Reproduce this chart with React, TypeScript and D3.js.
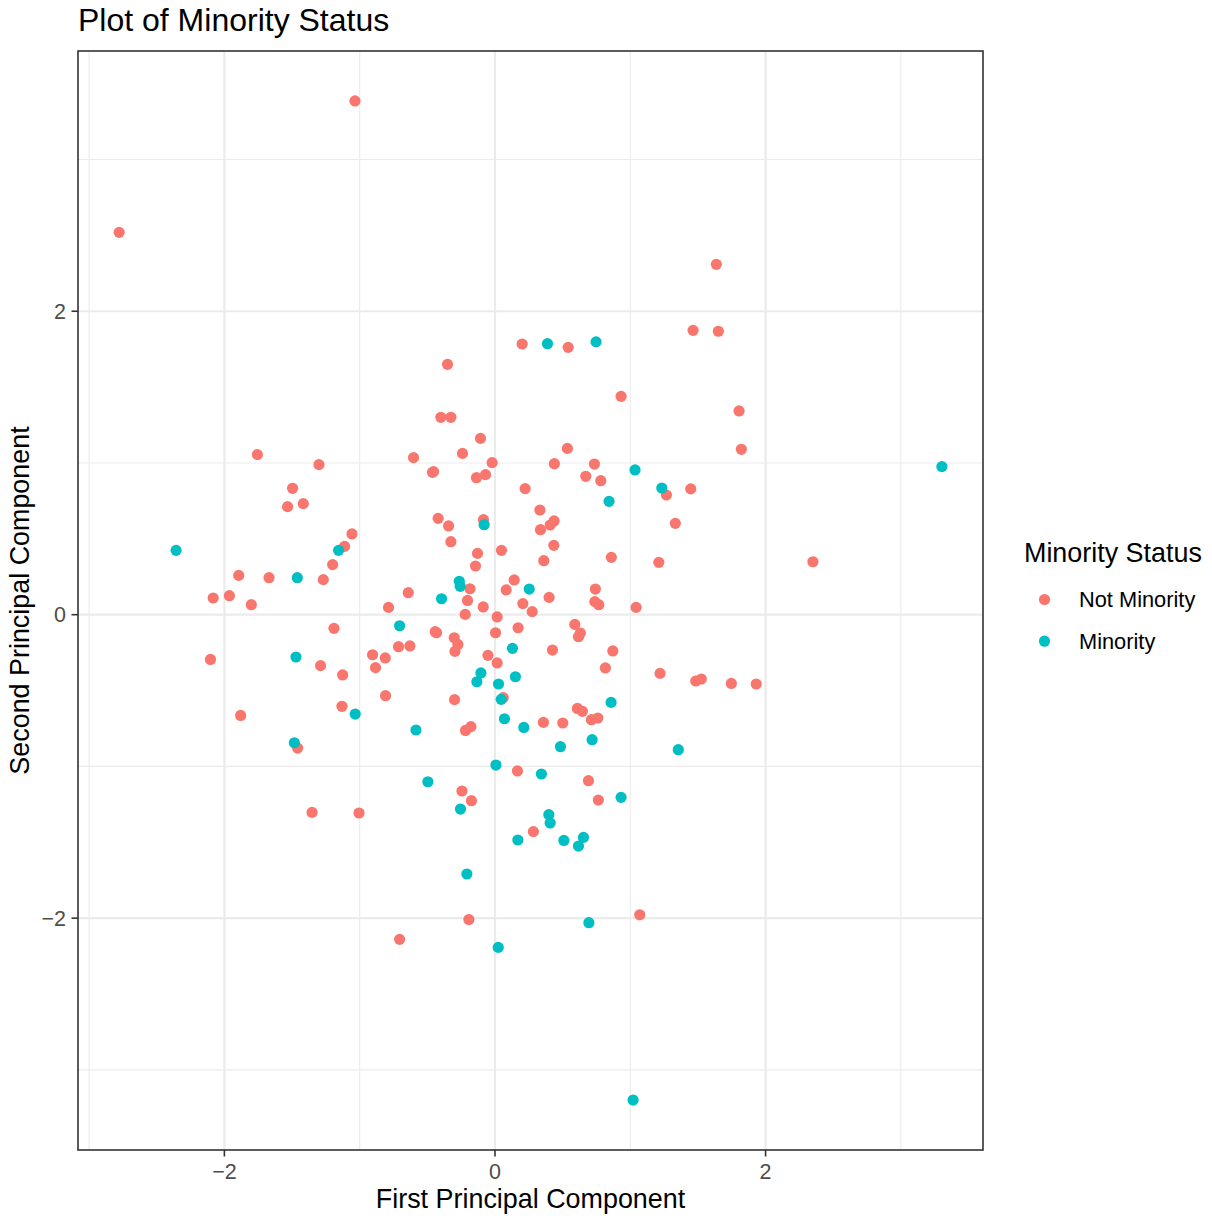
import React from "react";
import * as d3 from "d3";

// Principal component scores, split by minority status
const notMinorityPC1 = [
  -1.035, -2.778, 1.636, 1.464, 1.651, 0.201, 0.541, -0.351, 0.932, 1.804,
  -0.4, -0.326, -0.107, 0.535, 1.821, -1.756, -0.24, -0.602, -1.301, -0.021,
  0.439, 0.735, -0.462, -0.454, -0.137, -0.07, 0.671, 0.782, -1.496, 0.223,
  1.447, 1.267, -1.533, -1.417, 0.332, -0.42, -0.343, -0.085, 0.437, 0.408,
  0.336, 1.333, -1.057, -1.112, -0.326, 0.435, 0.048, -0.129, 0.361, 0.86,
  1.211, 2.35, -1.2, -0.144, -1.894, -1.67, -1.269, 0.142, -0.185, 0.083,
  0.742, -0.641, -2.083, -1.963, -0.203, 0.4, -1.801, -0.787, -0.087, 0.206,
  0.738, 0.767, 1.043, -0.22, 0.275, 0.016, 0.59, -0.442, -0.432, 0.171,
  0.631, 0.617, 0.004, -1.19, -0.301, -0.274, -0.296, -0.713, -0.629, 0.425,
  0.871, -0.811, -0.905, -0.883, -0.052, 0.016, 0.816, -2.103, -1.289, -1.126,
  1.22, 1.484, 1.525, 1.747, 1.931, -0.809, -0.299, 0.061, -1.131, -1.88,
  0.609, 0.646, 0.713, 0.76, -0.218, -0.178, 0.358, 0.501, -1.459, 0.166,
  0.691, -0.244, -0.174, 0.764, -1.352, -1.005, 0.284, -0.193, -0.705, 1.07,
];
const notMinorityPC2 = [
  3.386, 2.52, 2.309, 1.874, 1.868, 1.784, 1.762, 1.65, 1.439, 1.343,
  1.301, 1.301, 1.162, 1.096, 1.09, 1.055, 1.063, 1.035, 0.989, 1.002,
  0.995, 0.993, 0.938, 0.943, 0.903, 0.923, 0.912, 0.883, 0.833, 0.831,
  0.829, 0.789, 0.712, 0.732, 0.69, 0.635, 0.585, 0.626, 0.618, 0.591,
  0.56, 0.602, 0.532, 0.45, 0.481, 0.457, 0.424, 0.404, 0.356, 0.378,
  0.345, 0.349, 0.33, 0.321, 0.259, 0.244, 0.231, 0.229, 0.171, 0.163,
  0.169, 0.145, 0.11, 0.125, 0.094, 0.114, 0.066, 0.048, 0.051, 0.073,
  0.086, 0.066, 0.048, 0.002, 0.02, -0.015, -0.064, -0.112, -0.119, -0.086,
  -0.121, -0.145, -0.119, -0.09, -0.152, -0.196, -0.242, -0.211, -0.206, -0.233,
  -0.239, -0.285, -0.264, -0.349, -0.268, -0.318, -0.351, -0.295, -0.336, -0.397,
  -0.387, -0.437, -0.424, -0.453, -0.457, -0.534, -0.56, -0.547, -0.604, -0.664,
  -0.618, -0.637, -0.692, -0.681, -0.763, -0.738, -0.71, -0.714, -0.879, -1.03,
  -1.094, -1.162, -1.226, -1.222, -1.303, -1.307, -1.43, -2.009, -2.14, -1.978,
];
const minorityPC1 = [
  0.388, 0.747, 1.035, 3.303, 1.233, 0.843, -0.08, -1.156, -2.357, -1.461,
  -0.264, -0.257, 0.253, -0.395, -0.705, 0.129, -1.471, -0.104, -0.134, 0.151,
  0.026, 0.046, 0.858, -1.033, 0.07, -0.584, 0.213, 0.718, 0.484, 1.355,
  -1.483, 0.007, 0.343, -0.496, -0.255, 0.932, 0.398, 0.408, 0.169, 0.509,
  0.654, 0.617, -0.208, 0.694, 0.024, 1.021,
];
const minorityPC2 = [
  1.786, 1.798, 0.954, 0.976, 0.835, 0.747, 0.593, 0.424, 0.424, 0.244,
  0.22, 0.187, 0.169, 0.105, -0.073, -0.222, -0.279, -0.384, -0.442, -0.409,
  -0.457, -0.558, -0.578, -0.655, -0.686, -0.76, -0.743, -0.824, -0.87, -0.89,
  -0.844, -0.991, -1.05, -1.101, -1.281, -1.204, -1.318, -1.373, -1.485, -1.488,
  -1.468, -1.525, -1.709, -2.03, -2.193, -3.199,
];

const groupLabels = ["Not Minority", "Minority"];
const groupColors = ["#F8766D", "#00BFC4"];
const majorTicks = [-2, 0, 2];
const minorTicks = [-3, -1, 1, 3];

const FONT = "'Liberation Sans', Arial, Helvetica, sans-serif";

const W = 1212;
const H = 1219;
const panel = { left: 78, right: 983, top: 51, bottom: 1150 };

function expand(values: number[]): [number, number] {
  const [lo, hi] = d3.extent(values) as [number, number];
  const pad = (hi - lo) * 0.05;
  return [lo - pad, hi + pad];
}

const fmt = (v: number) => (v < 0 ? "\u2212" + Math.abs(v) : String(v));

export default function App() {
  const x = d3
    .scaleLinear()
    .domain(expand([...notMinorityPC1, ...minorityPC1]))
    .range([panel.left, panel.right]);
  const y = d3
    .scaleLinear()
    .domain(expand([...notMinorityPC2, ...minorityPC2]))
    .range([panel.bottom, panel.top]);

  const groups = [
    { xs: notMinorityPC1, ys: notMinorityPC2, color: groupColors[0] },
    { xs: minorityPC1, ys: minorityPC2, color: groupColors[1] },
  ];

  const r = 5.6;
  const xMin = x.domain()[0];
  const xMax = x.domain()[1];
  const yMin = y.domain()[0];
  const yMax = y.domain()[1];

  return (
    <svg
      width={W}
      height={H}
      style={{ position: "absolute", left: 0, top: 0, background: "#fff" }}
      fontFamily={FONT}
    >
      <rect x={0} y={0} width={W} height={H} fill="#fff" />
      {/* grid */}
      <g>
        {minorTicks
          .filter((t) => t > xMin && t < xMax)
          .map((t) => (
            <line key={"mx" + t} x1={x(t)} x2={x(t)} y1={panel.top} y2={panel.bottom} stroke="#EBEBEB" strokeWidth={1.1} />
          ))}
        {minorTicks
          .filter((t) => t > yMin && t < yMax)
          .map((t) => (
            <line key={"my" + t} y1={y(t)} y2={y(t)} x1={panel.left} x2={panel.right} stroke="#EBEBEB" strokeWidth={1.1} />
          ))}
        {majorTicks.map((t) => (
          <line key={"Mx" + t} x1={x(t)} x2={x(t)} y1={panel.top} y2={panel.bottom} stroke="#EBEBEB" strokeWidth={2.2} />
        ))}
        {majorTicks.map((t) => (
          <line key={"My" + t} y1={y(t)} y2={y(t)} x1={panel.left} x2={panel.right} stroke="#EBEBEB" strokeWidth={2.2} />
        ))}
      </g>
      {/* points */}
      <g>
        {groups.map((g, gi) =>
          g.xs.map((v, i) => (
            <circle key={gi + "-" + i} cx={x(v)} cy={y(g.ys[i])} r={r} fill={g.color} />
          ))
        )}
      </g>
      {/* panel border */}
      <rect
        x={panel.left}
        y={panel.top}
        width={panel.right - panel.left}
        height={panel.bottom - panel.top}
        fill="none"
        stroke="#333333"
        strokeWidth={1.6}
      />
      {/* x axis */}
      <g>
        {majorTicks.map((t) => (
          <g key={"xt" + t}>
            <line x1={x(t)} x2={x(t)} y1={panel.bottom} y2={panel.bottom + 6.5} stroke="#333333" strokeWidth={1.6} />
            <text x={x(t)} y={panel.bottom + 29} textAnchor="middle" fontSize={21.5} fill="#4D4D4D">
              {fmt(t)}
            </text>
          </g>
        ))}
        <text x={(panel.left + panel.right) / 2} y={1208} textAnchor="middle" fontSize={26.9} fill="#000">
          First Principal Component
        </text>
      </g>
      {/* y axis */}
      <g>
        {majorTicks.map((t) => (
          <g key={"yt" + t}>
            <line x1={panel.left - 6.5} x2={panel.left} y1={y(t)} y2={y(t)} stroke="#333333" strokeWidth={1.6} />
            <text x={panel.left - 12} y={y(t) + 7.5} textAnchor="end" fontSize={21.5} fill="#4D4D4D">
              {fmt(t)}
            </text>
          </g>
        ))}
        <text
          transform={`translate(29, ${(panel.top + panel.bottom) / 2}) rotate(-90)`}
          textAnchor="middle"
          fontSize={26.9}
          fill="#000"
        >
          Second Principal Component
        </text>
      </g>
      {/* title */}
      <text x={panel.left} y={30.5} fontSize={32} fill="#000">
        Plot of Minority Status
      </text>
      {/* legend */}
      <g>
        <text x={1024} y={562} fontSize={26.9} fill="#000">
          Minority Status
        </text>
        {groupLabels.map((lab, i) => (
          <g key={lab}>
            <circle cx={1044.5} cy={599.5 + i * 41.7} r={r} fill={groupColors[i]} />
            <text x={1079} y={599.5 + i * 41.7 + 7.5} fontSize={21.8} fill="#000">
              {lab}
            </text>
          </g>
        ))}
      </g>
    </svg>
  );
}
